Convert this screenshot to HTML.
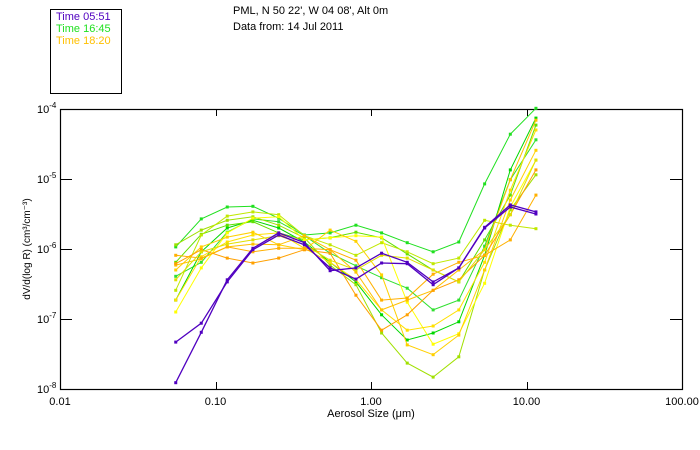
<!DOCTYPE html>
<html><head><meta charset="utf-8"><style>
html,body{margin:0;padding:0;background:#fff;}
svg{display:block;font-family:"Liberation Sans","DejaVu Sans",sans-serif;}
</style></head><body>
<svg id="chart" width="700" height="450" viewBox="0 0 700 450">
  <rect x="0" y="0" width="700" height="450" fill="#fff"/>
  <g>
    <rect x="50.5" y="9.5" width="71" height="84" fill="none" stroke="#000"/>
    <text x="56" y="20" font-size="11" fill="#5000c0">Time 05:51</text>
    <text x="56" y="32" font-size="11" fill="#20e020">Time 16:45</text>
    <text x="56" y="44" font-size="11" fill="#ffc000">Time 18:20</text>
  </g>
  <text x="233" y="14" font-size="11">PML, N 50 22', W 04 08', Alt 0m</text>
  <text x="233" y="30" font-size="11">Data from: 14 Jul 2011</text>
  <g id="axes"></g>
  <g id="series"></g>
  <text x="371" y="417" font-size="11" text-anchor="middle">Aerosol Size (μm)</text>
  <text transform="translate(30,249) rotate(-90)" font-size="10" text-anchor="middle">dV/d(log R) (cm³/cm⁻³)</text>
</svg>
<script>
const xTickValues = [0.01, 0.1, 1, 10, 100];
const xTickLabels = ["0.01", "0.10", "1.00", "10.00", "100.00"];
const yTickExponents = [-8, -7, -6, -5, -4];
const yTickLabels = ["-8", "-7", "-6", "-5", "-4"];
const sizes = [0.0555,0.081,0.119,0.174,0.255,0.373,0.546,0.8,1.17,1.71,2.51,3.67,5.38,7.87,11.5];
const seriesColors = ["#20e020","#30e030","#00d800","#60e000","#a0e000","#c0e800","#ffff00","#ffe000","#ffd000","#ffc000","#ffa000","#ffb000","#e0e000","#5000c0","#5000c0"];
const logDvG1 = [-5.97,-5.57,-5.40,-5.39,-5.56,-5.80,-5.77,-5.66,-5.77,-5.91,-6.04,-5.90,-5.07,-4.36,-3.99];
const logDvG2 = [-6.39,-6.19,-5.76,-5.57,-5.61,-5.81,-6.06,-6.24,-6.41,-6.56,-6.87,-6.73,-5.96,-5.01,-4.44];
const logDvG3 = [-6.73,-6.04,-5.70,-5.59,-5.70,-5.90,-6.19,-6.47,-6.94,-7.30,-7.20,-7.04,-6.09,-4.87,-4.13];
const logDvG4 = [-6.19,-5.79,-5.66,-5.61,-5.77,-5.87,-5.84,-5.76,-5.84,-6.07,-6.30,-6.47,-5.87,-5.23,-4.23];
const logDvG5 = [-5.94,-5.73,-5.59,-5.54,-5.66,-5.84,-6.23,-6.51,-7.20,-7.63,-7.83,-7.54,-6.30,-5.44,-4.94];
const logDvG6 = [-6.59,-5.80,-5.53,-5.47,-5.51,-5.81,-5.94,-6.09,-5.91,-6.04,-6.21,-6.13,-5.59,-5.66,-5.71];
const logDvG7 = [-6.90,-6.27,-5.77,-5.56,-5.54,-5.87,-5.84,-5.81,-5.83,-6.76,-7.36,-7.21,-6.49,-5.40,-4.73];
const logDvG8 = [-6.73,-6.11,-5.90,-5.80,-5.77,-5.99,-6.19,-6.44,-6.87,-7.16,-7.10,-6.87,-6.19,-5.16,-4.30];
const logDvG9 = [-6.30,-5.97,-5.83,-5.76,-5.94,-6.01,-5.73,-5.89,-6.37,-7.37,-7.51,-7.23,-6.30,-5.30,-4.59];
const logDvG10 = [-6.23,-6.14,-5.97,-5.93,-5.94,-5.81,-6.01,-6.33,-6.87,-6.73,-6.59,-6.30,-6.01,-5.01,-4.16];
const logDvG11 = [-6.21,-6.01,-6.13,-6.20,-6.13,-6.01,-6.06,-6.66,-7.16,-6.94,-6.59,-6.44,-6.09,-5.51,-4.87];
const logDvG12 = [-6.09,-6.13,-5.97,-6.04,-5.99,-5.99,-6.01,-6.16,-6.73,-6.70,-6.36,-6.19,-6.09,-5.87,-5.23];
const logDvG13 = [-6.44,-6.04,-5.93,-5.87,-5.81,-5.94,-6.16,-6.30,-6.09,-6.13,-6.30,-6.47,-6.01,-5.51,-4.73];
const logDvP1 = [-7.91,-7.19,-6.44,-5.99,-5.77,-5.91,-6.31,-6.27,-6.06,-6.19,-6.47,-6.27,-5.69,-5.37,-5.47];
const logDvP2 = [-7.33,-7.06,-6.47,-6.01,-5.80,-5.94,-6.27,-6.43,-6.20,-6.21,-6.51,-6.27,-5.70,-5.40,-5.50];
const allSeries = [logDvG1,logDvG2,logDvG3,logDvG4,logDvG5,logDvG6,logDvG7,logDvG8,logDvG9,logDvG10,logDvG11,logDvG12,logDvG13,logDvP1,logDvP2];

const L=60, R=682, T=109, B=389;
function xScale(v){ return L + (Math.log10(v) + 2) / 4 * (R - L); }
function yScale(e){ return B - (e + 8) / 4 * (B - T); }
const NS="http://www.w3.org/2000/svg";
function mk(tag, attrs, parent){ const el=document.createElementNS(NS,tag); for(const k in attrs) el.setAttribute(k, attrs[k]); parent.appendChild(el); return el; }

const axes=document.getElementById('axes');
const frame=mk('rect',{x:L+0.5,y:T+0.5,width:R-L,height:B-T,fill:'none',stroke:'#000','stroke-width':1.2},axes);


xTickValues.forEach((v,i)=>{
  const x=Math.round(xScale(v))+0.5;
  if(i>0 && i<xTickValues.length-1){
    const t1=mk('line',{x1:x,x2:x,y1:B,y2:B-7,stroke:'#000'},axes);
    
    
    const t2=mk('line',{x1:x,x2:x,y1:T,y2:T+7,stroke:'#000'},axes);
    
    
  }
  const lb=mk('text',{x:xScale(v),y:B+16,'font-size':11,'text-anchor':'middle'},axes);
  lb.textContent=xTickLabels[i];
  
  
});
yTickExponents.forEach((e,i)=>{
  const y=Math.round(yScale(e))+0.5;
  if(i>0 && i<yTickExponents.length-1){
    const t1=mk('line',{x1:L,x2:L+12,y1:y,y2:y,stroke:'#000'},axes);
    
    
    const t2=mk('line',{x1:R,x2:R-12,y1:y,y2:y,stroke:'#000'},axes);
    
    
  }
  const lb=mk('text',{x:37,y:yScale(e)+4,'font-size':11},axes);
  
  
  lb.textContent='10';
  const sup=mk('tspan',{dy:-5,'font-size':8},lb);
  sup.textContent=yTickLabels[i];
});

const sg=document.getElementById('series');
allSeries.forEach((vals,si)=>{
  const g=mk('g',{},sg);
  
  
  const purple = si>=13;
  const pts=vals.map((e,i)=>xScale(sizes[i]).toFixed(1)+','+yScale(e).toFixed(1)).join(' ');
  const pl=mk('polyline',{points:pts,fill:'none',stroke:seriesColors[si],'stroke-width':purple?1.3:1},g);
  
  
  vals.forEach((e,i)=>{
    const s=3;
    const r=mk('rect',{x:xScale(sizes[i])-s/2,y:yScale(e)-s/2,width:s,height:s,fill:seriesColors[si]},g);
    
    
  });
});
</script>
</body></html>
